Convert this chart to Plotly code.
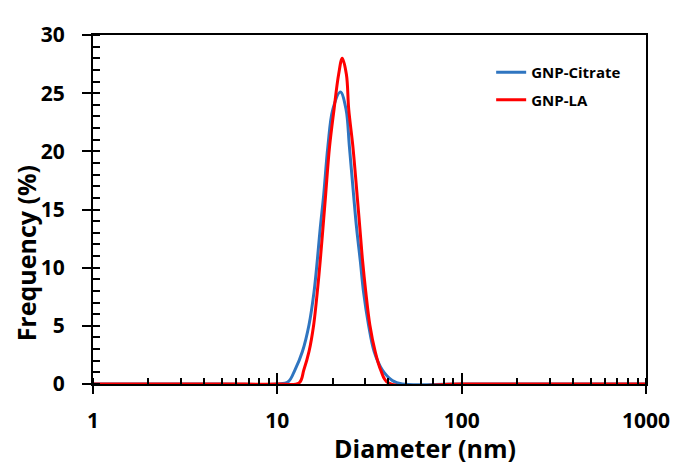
import plotly.graph_objects as go

# ---- data ----
diam_citrate = [1, 5, 10, 11.46, 12.45, 13.68, 14.86, 15.81, 16.47, 17.09, 17.83, 18.8, 20.0, 22.0,
                23.6, 24.6, 25.94, 26.92, 28.18, 29.36, 31.23, 33.51, 37.15, 42.04, 47.6, 100, 1000]
freq_citrate = [0, 0, 0, 0.2, 1.2, 2.8, 5.1, 7.9, 10.6, 13.4, 16.2, 20.4, 23.6, 25.1,
                23.6, 20.4, 16.2, 13.4, 10.6, 7.9, 5.1, 2.8, 1.2, 0.3, 0, 0, 0]

diam_la = [1, 5, 10, 13.13, 13.92, 14.86, 15.75, 16.47, 17.09, 17.68, 18.27, 19.2, 20.3, 21.5, 22.5,
           23.7, 24.4, 25.7, 27.1, 28.04, 29.0, 30.2, 31.74, 33.93, 36.38, 40.0, 100, 1000]
freq_la = [0, 0, 0, 0.1, 1.2, 2.8, 5.1, 7.9, 10.6, 13.4, 16.2, 20.4, 23.6, 26.6, 28.0,
           26.6, 23.6, 20.4, 16.2, 13.4, 10.6, 7.9, 5.1, 2.8, 1.2, 0.1, 0, 0]

series_names = ["GNP-Citrate", "GNP-LA"]
x_tickvals = [1, 10, 100, 1000]
x_ticktext = ["1", "10", "100", "1000"]
y_tickvals = [0, 5, 10, 15, 20, 25, 30]
x_title = "Diameter (nm)"
y_title = "Frequency (%)"

FONT = "Open Sans"
BLUE = "#2F75C0"
RED = "#FF0000"

fig = go.Figure()
fig.add_trace(go.Scatter(x=diam_citrate, y=freq_citrate, mode="lines", name=series_names[0],
                         line=dict(color=BLUE, width=3, shape="spline", smoothing=1.0),
                         legendgroup="a"))
fig.add_trace(go.Scatter(x=diam_la, y=freq_la, mode="lines", name=series_names[1],
                         line=dict(color=RED, width=3, shape="spline", smoothing=1.0),
                         legendgroup="b"))
# empty trace to host the overlay axes (inner halves of major ticks)
fig.add_trace(go.Scatter(x=[], y=[], xaxis="x2", yaxis="y2", showlegend=False, hoverinfo="skip"))

tickfont = dict(family=FONT, size=21, color="black", weight="bold")
titlefont = dict(family=FONT, size=25, color="black", weight="bold")

# the page body adds an 8px offset, so the figure is 8px smaller and margins shifted
fig.update_layout(
    width=674, height=455,
    margin=dict(l=85, r=31, t=17, b=79),
    paper_bgcolor="white", plot_bgcolor="white",
    showlegend=True,
    legend=dict(x=0.72, y=0.94, xanchor="left", yanchor="top",
                font=dict(family=FONT, size=15, color="black", weight="bold"),
                bgcolor="rgba(0,0,0,0)", borderwidth=0, tracegroupgap=5),
    xaxis=dict(type="log", range=[0, 3], tickmode="array", tickvals=x_tickvals, ticktext=x_ticktext,
               showline=True, linecolor="black", linewidth=2, mirror=True,
               ticks="outside", ticklen=8, tickwidth=2, tickcolor="black",
               ticklabelstandoff=9, tickfont=tickfont, showgrid=False, zeroline=False,
               minor=dict(ticks="inside", ticklen=6, tickwidth=2, tickcolor="black", dtick="D1", showgrid=False)),
    yaxis=dict(range=[0, 30], tickmode="array", tickvals=y_tickvals,
               showline=True, linecolor="black", linewidth=2, mirror=True,
               ticks="outside", ticklen=9, tickwidth=2, tickcolor="black",
               ticklabelstandoff=13, tickfont=tickfont, showgrid=False, zeroline=False,
               minor=dict(ticks="inside", ticklen=7, tickwidth=2, tickcolor="black", dtick=1, showgrid=False)),
    xaxis2=dict(type="log", range=[0, 3], overlaying="x", anchor="y", tickmode="array", tickvals=x_tickvals,
                ticks="inside", ticklen=11, tickwidth=2, tickcolor="black",
                showticklabels=False, showgrid=False, zeroline=False, showline=False),
    yaxis2=dict(range=[0, 30], overlaying="y", anchor="x", tickmode="array", tickvals=y_tickvals,
                ticks="inside", ticklen=7, tickwidth=2, tickcolor="black",
                showticklabels=False, showgrid=False, zeroline=False, showline=False),
    annotations=[
        dict(text=x_title, xref="paper", yref="paper", x=0.601, y=-0.237, xanchor="center", yanchor="bottom",
             showarrow=False, font=titlefont),
        dict(text=y_title, xref="paper", yref="paper", x=-0.122, y=0.373, xanchor="center", yanchor="middle",
             textangle=-90, showarrow=False, font=titlefont),
    ],
)

fig.write_html("out.html")
